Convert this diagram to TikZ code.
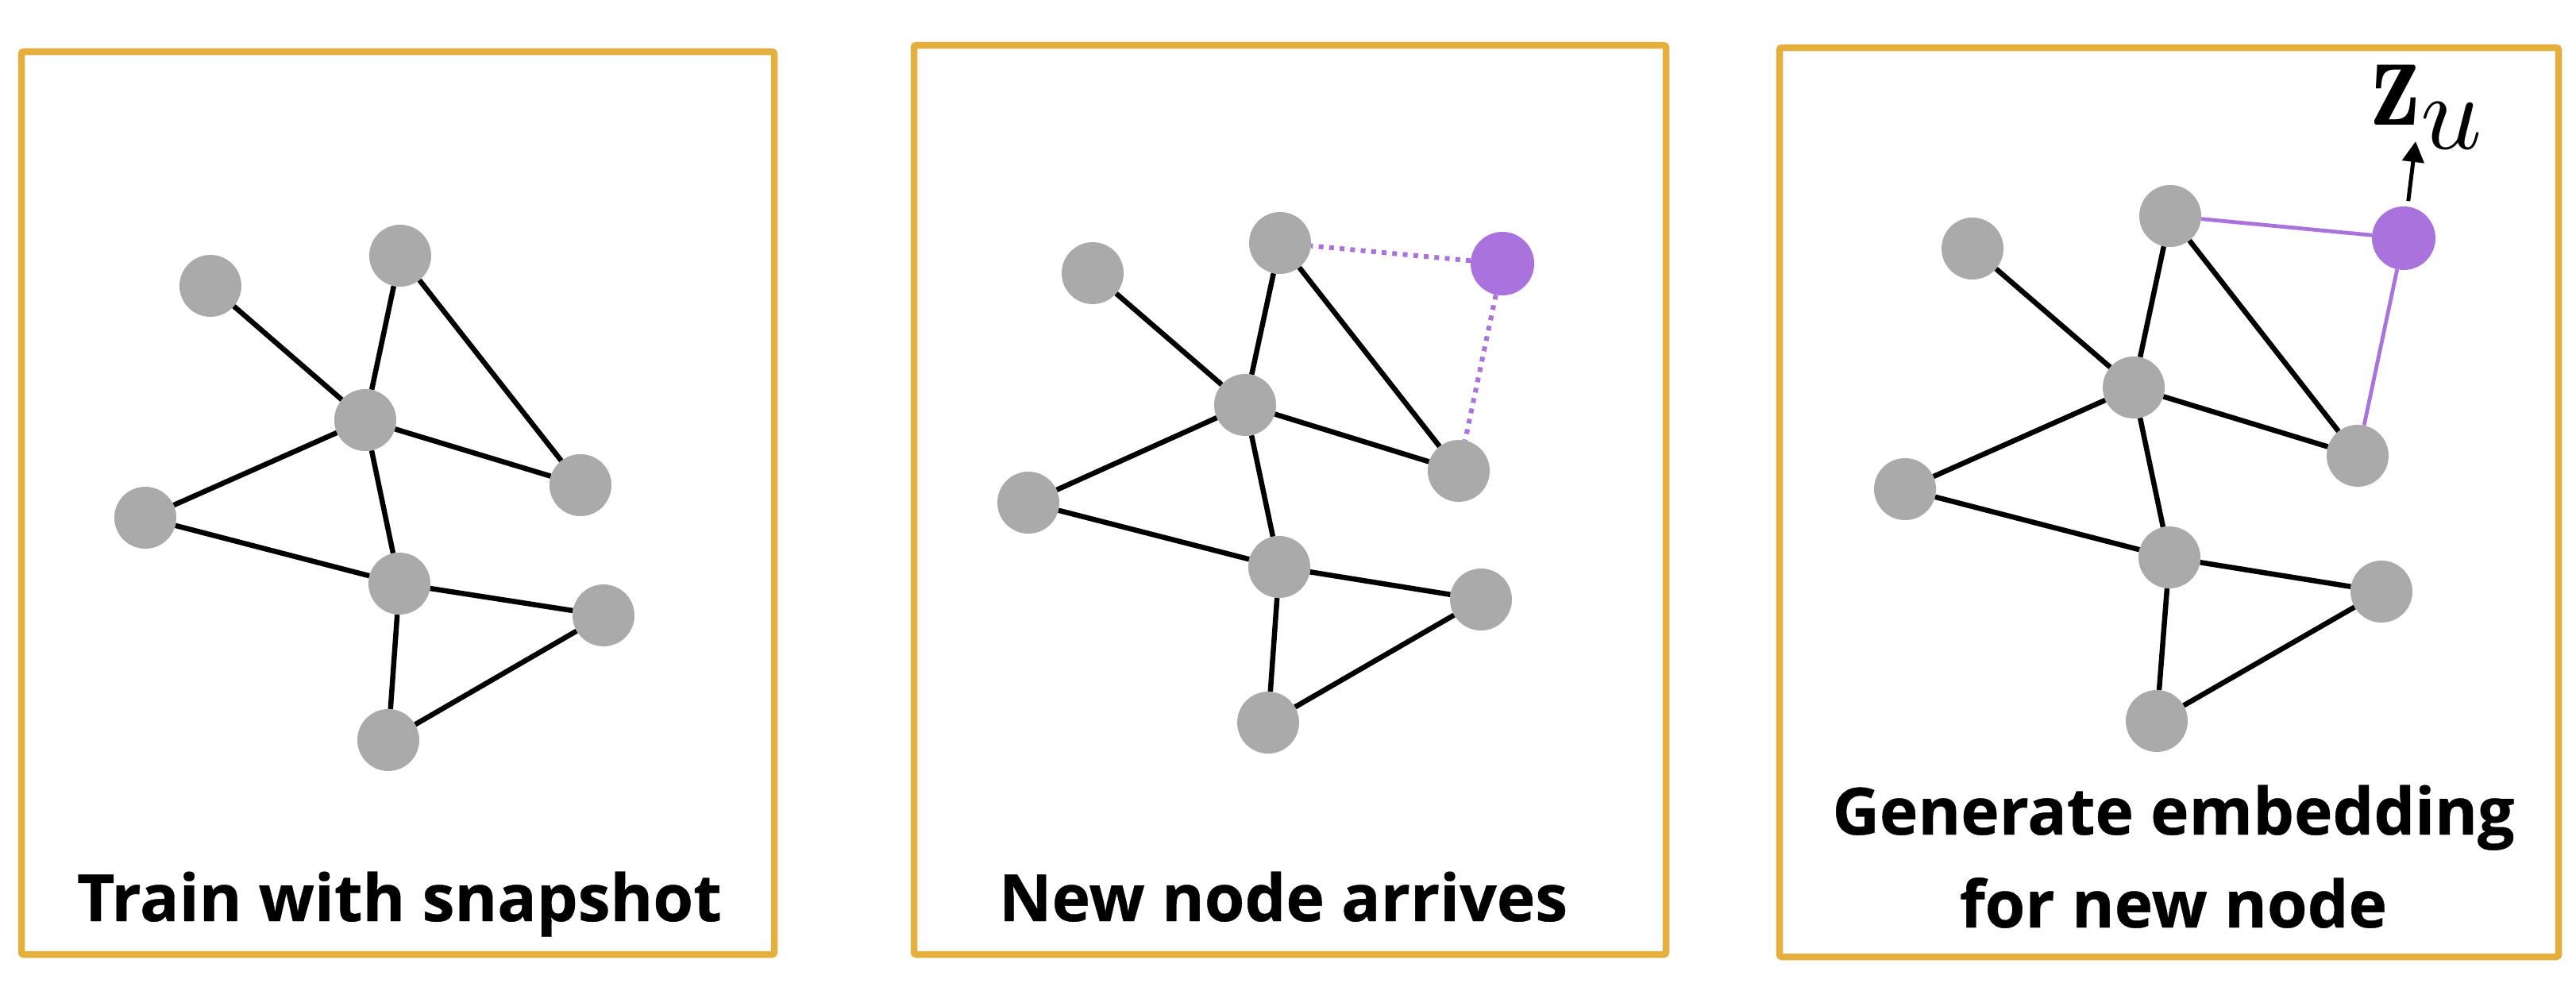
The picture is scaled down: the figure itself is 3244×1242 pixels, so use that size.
\documentclass[tikz,border=0pt]{standalone}
\usepackage{graphicx}
\usepackage{fontspec}
\setsansfont{Open Sans}[BoldFeatures={FakeBold=0.5}]
\usetikzlibrary{arrows.meta}
\definecolor{nodegray}{HTML}{A9AAA9}
\definecolor{newpurple}{HTML}{AA72DC}
\definecolor{boxgold}{HTML}{E5AF3D}
\begin{document}
\begin{tikzpicture}[x=1pt,y=-1pt,
  gnode/.style={circle,fill=nodegray,draw=none,inner sep=0pt,minimum size=78pt},
  pnode/.style={circle,fill=newpurple,draw=none,inner sep=0pt,minimum size=80pt},
  edge/.style={line width=6.5pt,black},
  pedge/.style={line width=4.8pt,newpurple},
  dedge/.style={line width=6pt,newpurple,dash pattern=on 6pt off 7.3pt},
  panel/.style={draw=boxgold,line width=8.5pt,rounded corners=3pt},
  caption/.style={font=\sffamily\bfseries\fontsize{82}{117}\selectfont,align=center,inner sep=0pt},
  arr/.style={line width=5pt,-{Triangle[width=27pt,length=26pt]}}]
\useasboundingbox (0,0) rectangle (3244,1242);
\fill[white] (0,0) rectangle (3244,1242);
% panels
\draw[panel] (27,65) rectangle (975,1202);
\draw[panel] (1151,57) rectangle (2098,1202);
\draw[panel] (2241,60) rectangle (3222,1205);
% ---------- panel 1
\node[gnode] (a1) at (265,360) {};
\node[gnode] (b1) at (504,322) {};
\node[gnode] (c1) at (460,529) {};
\node[gnode] (d1) at (731,611) {};
\node[gnode] (e1) at (183,652) {};
\node[gnode] (f1) at (503,735) {};
\node[gnode] (g1) at (760,775) {};
\node[gnode] (h1) at (489,932) {};
% ---------- panel 2
\node[gnode] (a2) at (1376,344) {};
\node[gnode] (b2) at (1612,306) {};
\node[gnode] (c2) at (1568,510) {};
\node[gnode] (d2) at (1837,593) {};
\node[gnode] (e2) at (1295,633) {};
\node[gnode] (f2) at (1611,714) {};
\node[gnode] (g2) at (1865,755) {};
\node[gnode] (h2) at (1597,910) {};
\node[pnode] (p2) at (1892,332) {};
% ---------- panel 3
\node[gnode] (a3) at (2484,313) {};
\node[gnode] (b3) at (2733,272) {};
\node[gnode] (c3) at (2687,488) {};
\node[gnode] (d3) at (2969,574) {};
\node[gnode] (e3) at (2399,616) {};
\node[gnode] (f3) at (2732,702) {};
\node[gnode] (g3) at (2999,745) {};
\node[gnode] (h3) at (2716,908) {};
\node[pnode] (p3) at (3027,300) {};
% edges
\foreach \i in {1,2,3}{
  \draw[edge] (a\i) -- (c\i);
  \draw[edge] (b\i) -- (c\i);
  \draw[edge] (b\i) -- (d\i);
  \draw[edge] (c\i) -- (d\i);
  \draw[edge] (c\i) -- (e\i);
  \draw[edge] (c\i) -- (f\i);
  \draw[edge] (e\i) -- (f\i);
  \draw[edge] (f\i) -- (g\i);
  \draw[edge] (f\i) -- (h\i);
  \draw[edge] (h\i) -- (g\i);
}
\draw[dedge] (p2) -- (b2);
\draw[dedge] (p2) -- (d2);
\draw[pedge] (p3) -- (b3);
\draw[pedge] (p3) -- (d3);
% embedding label
\node[anchor=base west,inner sep=0pt] (zu) at (2986,157)
  {\scalebox{14}[17]{$\mathbf{z}$}\raisebox{-31pt}{\scalebox{13.5}{$u$}}};
\coordinate (zt) at (3042,178);
\draw[arr,shorten <=7pt] (p3) -- (zt);
% captions
\node[caption,anchor=base] (cap1) at (503,1160) {Train with snapshot};
\node[caption,anchor=base] (cap2) at (1616,1160) {New node arrives};
\node[caption,anchor=base] (cap3) at (2737,1168) {Generate embedding\\for new node};
\end{tikzpicture}
\end{document}
